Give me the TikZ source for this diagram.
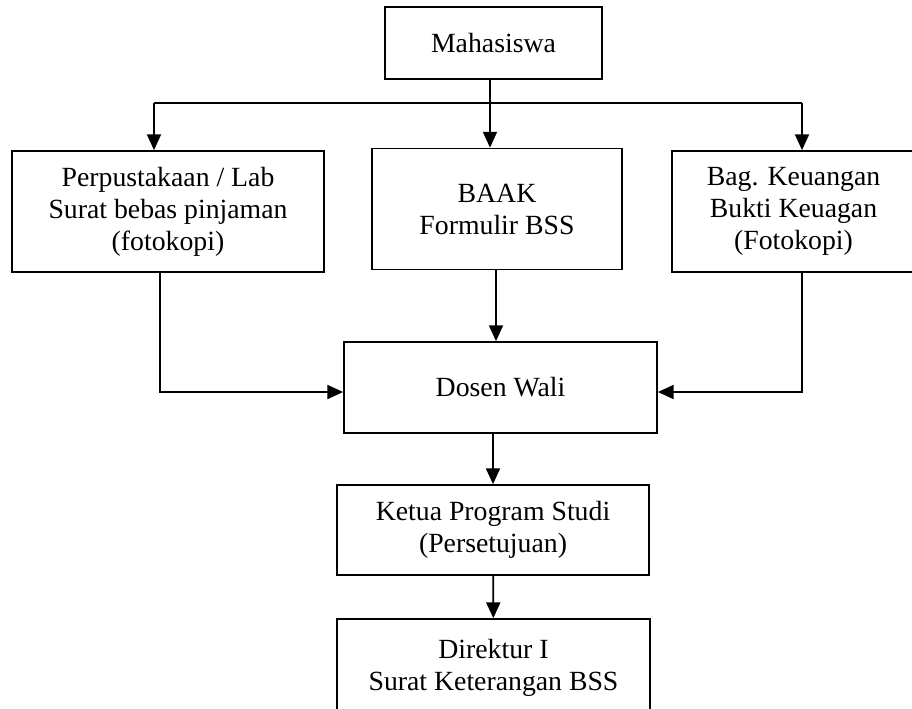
\documentclass[tikz,border=0pt]{standalone}
\usepackage{fontspec}
\setmainfont{Liberation Serif}
\usetikzlibrary{arrows.meta,positioning}

\begin{document}
\begin{tikzpicture}[x=0.02cm, y=-0.02cm,
    font=\fontsize{15.8}{18.2}\selectfont,
    kotak/.style = {draw, line width=1pt, align=center, inner sep=0pt},
    panah/.style = {line width=1pt, -{Triangle[length=9pt,width=8pt]}}]
\useasboundingbox (0,0) rectangle (912,708);
\node[kotak, minimum width=217*0.02cm, minimum height=72*0.02cm] (mhs) at (493.5,43) {Mahasiswa};
\node[kotak, minimum width=312*0.02cm, minimum height=121*0.02cm] (perpus) at (168,211.5)
    {Perpustakaan / Lab\\Surat bebas pinjaman\\(fotokopi)};
\node[kotak, minimum width=250*0.02cm, minimum height=121*0.02cm] (baak) at (497,209)
    {BAAK\\Formulir BSS};
\node[kotak, minimum width=243*0.02cm, minimum height=121*0.02cm] (keu) at (793.5,211.5)
    {Bag. Keuangan\\Bukti Keuagan\\(Fotokopi)};
\node[kotak, minimum width=313*0.02cm, minimum height=91*0.02cm] (dosen) at (500.5,387.5) {Dosen Wali};
\node[kotak, minimum width=312*0.02cm, minimum height=90*0.02cm] (kaprodi) at (493,530)
    {Ketua Program Studi\\(Persetujuan)};
\node[kotak, minimum width=313*0.02cm, minimum height=98*0.02cm] (direktur) at (493.5,668)
    {Direktur I\\Surat Keterangan BSS};

\coordinate (kiri) at (154,103);
\coordinate (kanan) at (802,103);
\coordinate (turunL) at (160,272);
\coordinate (turunR) at (802,272);

\draw[line width=1pt] (kiri) -- (kanan);
\draw[panah] (mhs.south -| 490,0) -- (490,0 |- baak.north);
\draw[panah] (kiri) -- (kiri |- perpus.north);
\draw[panah] (kanan) -- (kanan |- keu.north);
\draw[panah] (turunL) |- (dosen.west |- 0,392);
\draw[panah] (turunR) |- (dosen.east |- 0,392);
\draw[panah] (baak.south -| 496,0) -- (496,0 |- dosen.north);
\draw[panah] (kaprodi.north |- dosen.south) -- (kaprodi.north);
\draw[panah] (kaprodi) -- (direktur);
\end{tikzpicture}
\end{document}
